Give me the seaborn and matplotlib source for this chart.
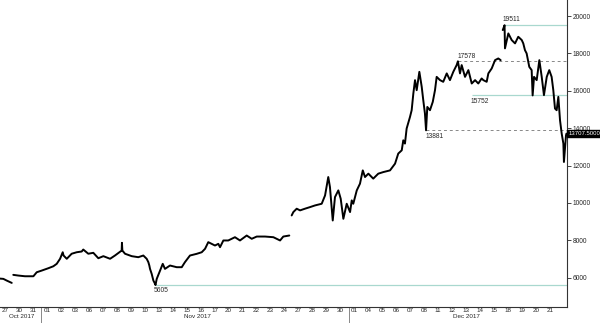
import numpy as np
import pandas as pd
import matplotlib
matplotlib.use("Agg")
import matplotlib.pyplot as plt
import seaborn as sns

# ---- data (business-day index, price) ----
seg1_day = [-0.36, -0.12, 0.12, 0.48]
seg1_px = [5950, 5935, 5845, 5720]

seg2_day = [0.59, 0.95, 1.43, 2.03, 2.27, 2.63, 3.10, 3.46, 3.70, 3.94, 4.13, 4.19, 4.42, 4.77,
            5.13, 5.49, 5.60, 5.96, 6.32, 6.68, 7.04, 7.52, 7.87, 8.35, 8.37, 8.40, 8.59, 9.07,
            9.54, 9.90, 10.14, 10.26, 10.33, 10.38, 10.50, 10.62, 10.74, 10.77, 10.86, 11.10,
            11.29, 11.45, 11.81, 12.29, 12.65, 12.88, 13.24, 13.72, 14.08, 14.32, 14.55, 14.79,
            15.03, 15.27, 15.39, 15.63, 15.98, 16.46, 16.82, 17.30, 17.66, 18.02, 18.61, 19.21,
            19.69, 19.92, 20.35]
seg2_px = [6150, 6113, 6075, 6075, 6290, 6380, 6505, 6610, 6740, 7010, 7360, 7185, 7010, 7280,
           7360, 7400, 7505, 7280, 7330, 7040, 7150, 7010, 7185, 7450, 7865, 7450, 7280, 7150,
           7095, 7185, 7010, 6830, 6650, 6470, 6200, 5845, 5670, 5605, 5935, 6380,
           6740, 6470, 6650, 6560, 6560, 6830, 7185, 7275, 7360, 7545, 7900, 7810,
           7720, 7810, 7630, 7990, 7990, 8165, 7990, 8255, 8080, 8200, 8200, 8165,
           7990, 8200, 8255]

seg3_day = [20.52, 20.64, 20.88, 21.12, 21.47, 21.83, 22.19, 22.67, 22.91, 23.14, 23.26, 23.46,
            23.62, 23.86, 24.03, 24.22, 24.46, 24.70, 24.82, 24.93, 25.18, 25.41, 25.61, 25.77,
            26.01, 26.36, 26.72, 27.08, 27.56, 27.92, 28.15, 28.40, 28.51, 28.63, 28.75, 28.99,
            29.11, 29.23, 29.35, 29.47, 29.66, 29.83, 29.94, 30.06, 30.14, 30.23, 30.42, 30.62,
            30.78, 30.90, 31.14, 31.37, 31.62, 31.85, 32.09, 32.33, 32.42, 32.57, 32.69, 32.93,
            33.17, 33.41, 33.65, 33.88, 34.12, 34.24, 34.48, 34.60, 34.84, 35.08, 35.31, 35.48]
seg3_px = [9330, 9510, 9690, 9600, 9690, 9775, 9865, 9955, 10400, 11385, 10850, 9060,
           10310, 10670, 10225, 9150, 9955, 9510, 10135, 9955, 10670, 11030, 11740, 11385,
           11565, 11300, 11565, 11650, 11740, 12100, 12640, 12815, 13350, 13175, 13980, 14600,
           14960, 15855, 16570, 16030, 17015, 16210, 15500, 14785, 13885, 15135, 14960, 15405,
           16030, 16745, 16570, 16480, 16930, 16570, 17015, 17375, 17578, 16930, 17375, 16745,
           17105, 16390, 16570, 16390, 16660, 16570, 16480, 16930, 17195, 17640, 17730, 17640]

seg4_day = [35.63, 35.72, 35.76, 35.79, 36.03, 36.27, 36.51, 36.74, 36.99, 37.10, 37.22, 37.34,
            37.53, 37.70, 37.77, 37.87, 38.06, 38.25, 38.42, 38.58, 38.78, 38.96, 39.13, 39.25,
            39.37, 39.49, 39.61, 39.73, 39.85, 39.97, 40.01, 40.16, 40.19]
seg4_px = [19250, 19425, 19511, 18270, 19070, 18715, 18535, 18890, 18715, 18535, 18175, 18000,
           17280, 17105, 15752, 16745, 16570, 17640, 16745, 15765, 16745, 17105, 16745, 16030,
           15050, 14960, 15675, 14425, 13710, 13175, 12190, 13620, 13707.5]

day_labels = ["27", "30", "31", "01", "02", "03", "06", "07", "08", "09", "10", "13", "14", "15",
              "16", "17", "20", "21", "22", "23", "24", "27", "28", "29", "30", "01", "04", "05",
              "06", "07", "08", "11", "12", "13", "14", "15", "18", "19", "20", "21"]
month_labels = ["Oct 2017", "Nov 2017", "Dec 2017"]
month_centers = [1.2, 13.8, 33.0]
month_breaks = [2.58, 24.6]

levels_solid = [(19511, 35.76), (15752, 33.41), (5605, 10.77)]
levels_dashed = [(17578, 32.42), (13881, 30.14)]
last_price = "13707.5000"

frames = []
for i, (d, p) in enumerate([(seg1_day, seg1_px), (seg2_day, seg2_px),
                            (seg3_day, seg3_px), (seg4_day, seg4_px)]):
    frames.append(pd.DataFrame({"day": d, "price": p, "seg": i}))
df = pd.concat(frames, ignore_index=True)

sns.set_style("white")
plt.rcParams["font.family"] = ["Liberation Sans", "DejaVu Sans"]
fig = plt.figure(figsize=(6.0, 3.23), dpi=100)
AX_H = 307 / 323
ax = fig.add_axes([0.0, 1 - AX_H, 0.945, AX_H])

XMIN, XMAX = -0.36, 40.23
YMIN, YMAX = 4430, 20858

teal = "#a9d8cf"
for val, start in levels_solid:
    ax.hlines(val, start, XMAX, color=teal, lw=0.9, zorder=1)
for val, start in levels_dashed:
    ax.hlines(val, start, XMAX, color="#888888", lw=0.7, ls=(0, (3, 3)), zorder=1)

sns.lineplot(data=df, x="day", y="price", units="seg", estimator=None, sort=False,
             color="black", lw=1.4, ax=ax, legend=False, zorder=3)

fs = 4.8
bfs = 4.5
ax.text(35.6, 19511 + 120, "19511", fontsize=fs, ha="left", va="bottom")
ax.text(32.4, 17578 + 60, "17578", fontsize=fs, ha="left", va="bottom")
ax.text(33.35, 15752 - 150, "15752", fontsize=fs, ha="left", va="top")
ax.text(30.1, 13881 - 120, "13881", fontsize=fs, ha="left", va="top")
ax.text(10.65, 5605 - 120, "5605", fontsize=fs, ha="left", va="top")

ax.set_xlim(XMIN, XMAX)
ax.set_ylim(YMIN, YMAX)
ax.set_xlabel("")
ax.set_ylabel("")

ax.set_xticks(range(len(day_labels)))
ax.set_xticklabels(day_labels, fontsize=bfs)
ax.tick_params(axis="x", length=0, pad=0.8, width=0.5)

ax.yaxis.tick_right()
ax.set_yticks(range(6000, 20001, 2000))
ax.set_yticklabels([str(v) for v in range(6000, 20001, 2000)], fontsize=fs)
ax.tick_params(axis="y", length=3, pad=1, width=0.6, direction="out")

for s in ["top", "left"]:
    ax.spines[s].set_visible(False)
for s in ["right", "bottom"]:
    ax.spines[s].set_color("#333333")
    ax.spines[s].set_linewidth(0.8)

trans = ax.get_xaxis_transform()
for c, lab in zip(month_centers, month_labels):
    ax.text(c, -0.0235, lab, transform=trans, fontsize=bfs, ha="center", va="top")
for b in month_breaks:
    ax.plot([b, b], [0, -0.06], transform=trans, color="#888888", lw=0.7, clip_on=False)

ax.text(XMAX + 0.08, 13707.5, last_price, fontsize=4.3, color="white", ha="left",
        va="center", transform=ax.transData, clip_on=False,
        bbox=dict(boxstyle="square,pad=0.12", fc="black", ec="black"), zorder=5)

fig.savefig("out.png", dpi=100)
